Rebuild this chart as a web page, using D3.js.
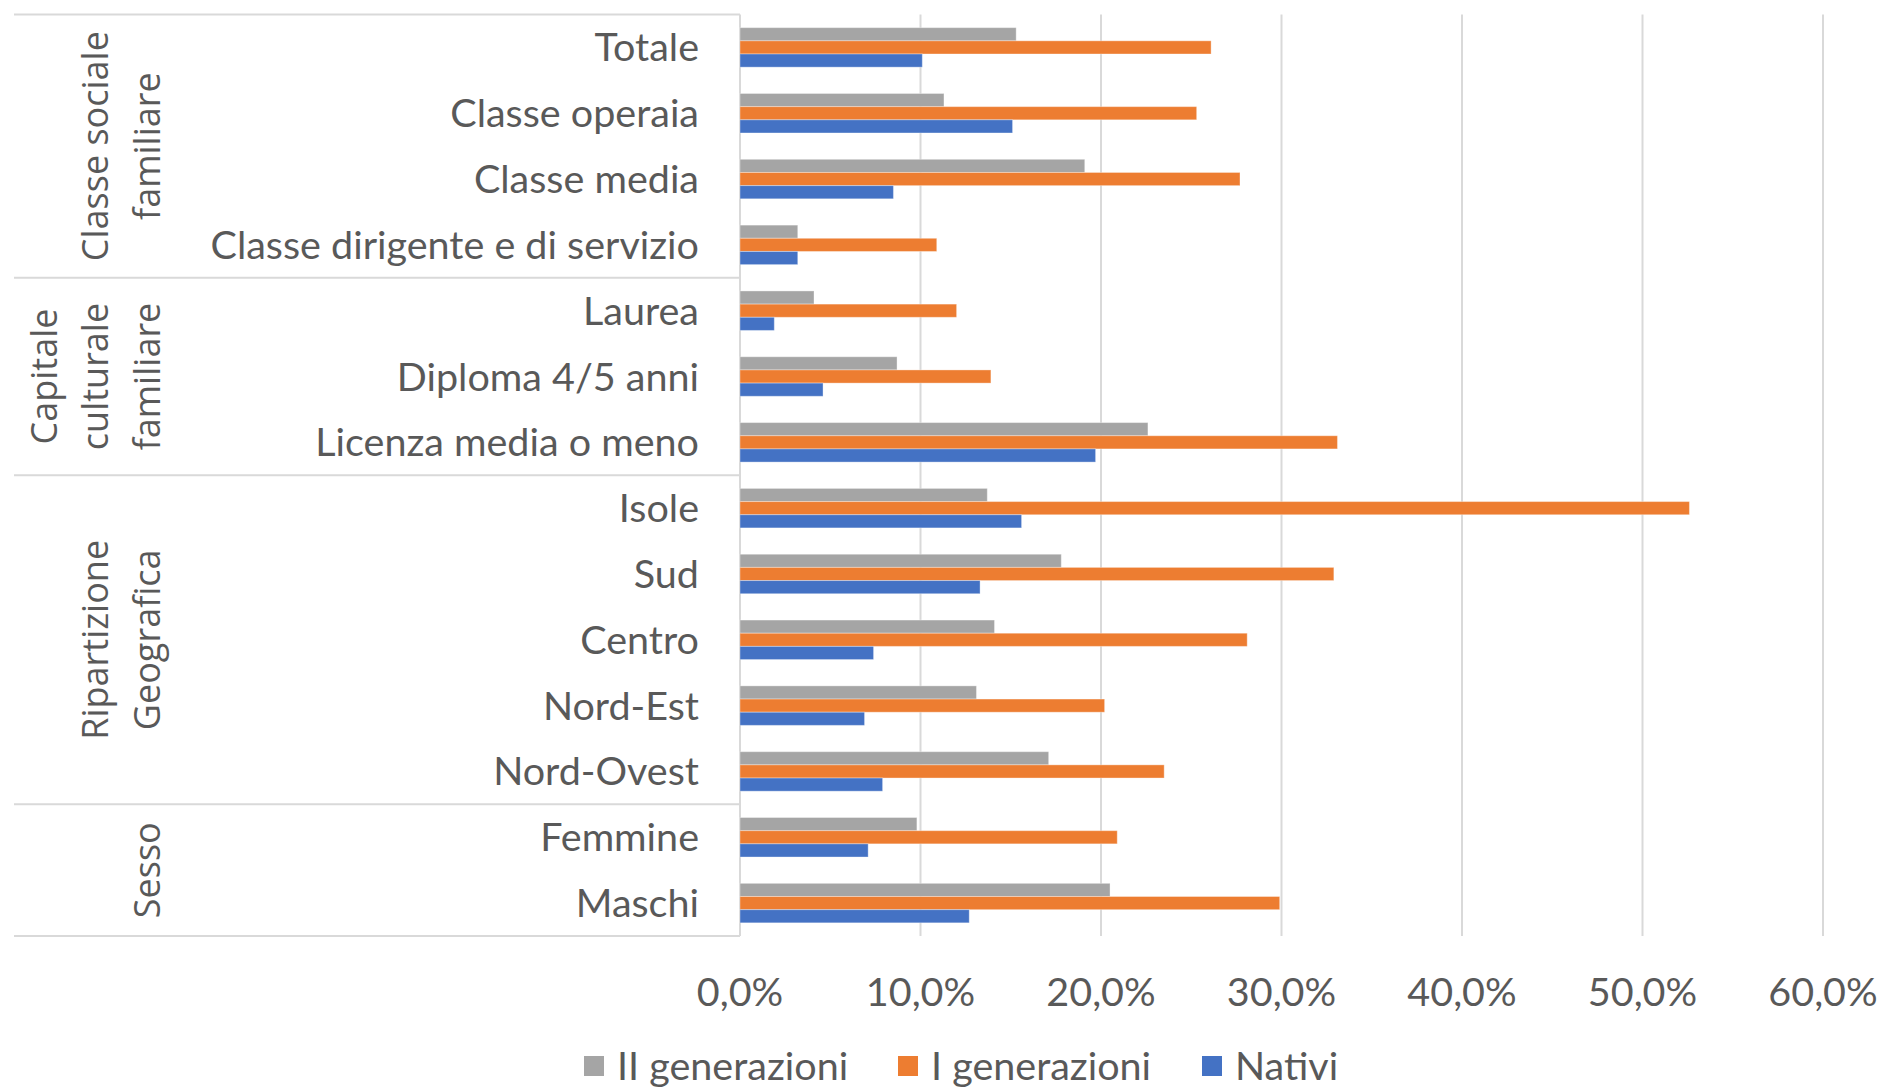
<!DOCTYPE html>
<html lang="it">
<head>
  <meta charset="UTF-8">
  <title>Generazioni</title>
  <script src="https://d3js.org/d3.v7.min.js"></script>
  <style>
    body { margin: 0; background: #fff; }
    svg { display: block; }
  </style>
</head>
<body>
  <script>

    // data (percentages)
    var categories = ["Totale", "Classe operaia", "Classe media", "Classe dirigente e di servizio",
      "Laurea", "Diploma 4/5 anni", "Licenza media o meno",
      "Isole", "Sud", "Centro", "Nord-Est", "Nord-Ovest",
      "Femmine", "Maschi"];

    var groupLabels = [["Classe sociale", "familiare"], ["Capitale", "culturale", "familiare"],
      ["Ripartizione", "Geografica"], ["Sesso"]];
    var groupSizes = [4, 3, 5, 2];

    var seriesNames = ["II generazioni", "I generazioni", "Nativi"];
    var seriesColors = ["#a5a5a5", "#ed7d31", "#4472c4"];

    var seconda = [15.3, 11.3, 19.1, 3.2, 4.1, 8.7, 22.6, 13.7, 17.8, 14.1, 13.1, 17.1, 9.8, 20.5];
    var prima = [26.1, 25.3, 27.7, 10.9, 12.0, 13.9, 33.1, 52.6, 32.9, 28.1, 20.2, 23.5, 20.9, 29.9];
    var nativi = [10.1, 15.1, 8.5, 3.2, 1.9, 4.6, 19.7, 15.6, 13.3, 7.4, 6.9, 7.9, 7.1, 12.7];

    var xTicks = [0, 10, 20, 30, 40, 50, 60];

    var series = [seconda, prima, nativi];

    var width = 1880, height = 1087;
    var plot = { left: 740, right: 1823, top: 14.5, bottom: 936 };
    var labelFont = "Lato, 'Liberation Sans', sans-serif";
    var labelSize = 39.5;
    var groupFont = "'Open Sans', 'DejaVu Sans', sans-serif";
    var textColor = "#595959";
    var lineColor = "#d9d9d9";

    var svg = d3.select("body")
      .append("svg")
        .attr("width", width)
        .attr("height", height);

    var x = d3.scaleLinear()
      .domain([0, 60])
      .range([plot.left, plot.right]);

    var y = d3.scaleBand()
      .domain(categories)
      .range([plot.top, plot.bottom])
      .paddingInner(0.4)
      .paddingOuter(0.2);

    var ySub = d3.scaleBand()
      .domain(d3.range(series.length))
      .range([0, y.bandwidth()]);

    var step = y.step();
    var bandTop = function(i) { return plot.top + i * step; };

    // gridlines
    svg.append("g")
      .selectAll("line")
      .data(xTicks)
      .enter()
      .append("line")
        .attr("x1", function(d) { return x(d); })
        .attr("x2", function(d) { return x(d); })
        .attr("y1", plot.top)
        .attr("y2", plot.bottom)
        .attr("stroke", lineColor)
        .attr("stroke-width", 2);

    // group separators on the left
    var bounds = [0];
    groupSizes.forEach(function(n, i) { bounds.push(bounds[i] + n); });

    svg.append("g")
      .selectAll("line")
      .data(bounds)
      .enter()
      .append("line")
        .attr("x1", 14)
        .attr("x2", plot.left)
        .attr("y1", function(d) { return bandTop(d); })
        .attr("y2", function(d) { return bandTop(d); })
        .attr("stroke", lineColor)
        .attr("stroke-width", 2);

    // bars
    var barData = [];
    categories.forEach(function(c, i) {
      series.forEach(function(s, j) {
        barData.push({ cat: c, s: j, v: s[i] });
      });
    });

    svg.append("g")
      .selectAll("rect")
      .data(barData)
      .enter()
      .append("rect")
        .attr("x", x(0))
        .attr("y", function(d) { return y(d.cat) + ySub(d.s); })
        .attr("width", function(d) { return x(d.v) - x(0); })
        .attr("height", ySub.bandwidth())
        .attr("fill", function(d) { return seriesColors[d.s]; })
        .attr("stroke", "#fff")
        .attr("stroke-opacity", 0.35)
        .attr("stroke-width", 1);

    // category labels
    svg.append("g")
      .selectAll("text")
      .data(categories)
      .enter()
      .append("text")
        .attr("x", 699)
        .attr("y", function(d) { return y(d) + y.bandwidth() / 2 + 14; })
        .attr("text-anchor", "end")
        .attr("font-family", labelFont)
        .attr("font-size", labelSize)
        .attr("fill", textColor)
        .text(function(d) { return d; });

    // group labels, rotated
    groupLabels.forEach(function(lines, g) {
      var cy = (bandTop(bounds[g]) + bandTop(bounds[g + 1])) / 2;
      lines.forEach(function(line, k) {
        var cx = 146 - (lines.length - 1 - k) * 51.5;
        svg.append("text")
          .attr("transform", "translate(" + cx + "," + cy + ") rotate(-90)")
          .attr("text-anchor", "middle")
          .attr("dominant-baseline", "central")
          .attr("font-family", groupFont)
          .attr("font-size", 36)
          .attr("fill", textColor)
          .text(line);
      });
    });

    // x axis labels
    var it = d3.formatLocale({ decimal: ",", thousands: ".", grouping: [3], currency: ["", "€"] });
    var fmt = it.format(".1f");

    svg.append("g")
      .selectAll("text")
      .data(xTicks)
      .enter()
      .append("text")
        .attr("x", function(d) { return x(d); })
        .attr("y", 1006)
        .attr("text-anchor", "middle")
        .attr("font-family", labelFont)
        .attr("font-size", labelSize)
        .attr("fill", textColor)
        .text(function(d) { return fmt(d) + "%"; });

    // legend
    var legendX = [584, 898, 1202];
    var legend = svg.append("g")
      .selectAll("g")
      .data(seriesNames)
      .enter()
      .append("g")
        .attr("transform", function(d, i) { return "translate(" + legendX[i] + ",1056)"; });

    legend.append("rect")
      .attr("width", 20)
      .attr("height", 20)
      .attr("fill", function(d, i) { return seriesColors[i]; });

    legend.append("text")
      .attr("x", 33)
      .attr("y", 24)
      .attr("font-family", labelFont)
      .attr("font-size", labelSize)
      .attr("fill", textColor)
      .text(function(d) { return d; });

  </script>
</body>
</html>
